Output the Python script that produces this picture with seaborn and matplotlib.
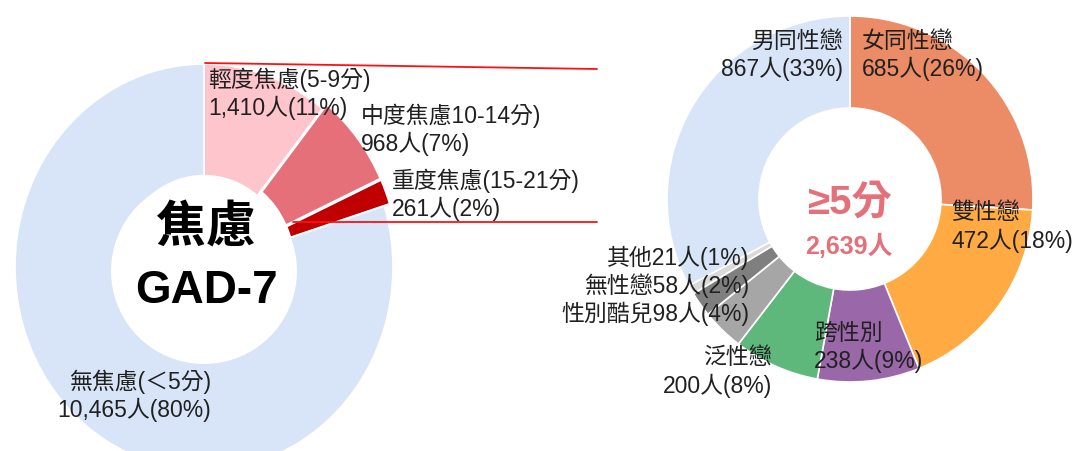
import matplotlib
matplotlib.use("Agg")
import matplotlib.pyplot as plt
from matplotlib.patches import Circle
import seaborn as sns

# 焦慮 GAD-7 分級
gad_labels = ['輕度焦慮(5-9分)', '中度焦慮10-14分)', '重度焦慮(15-21分)', '無焦慮(＜5分)']
gad_counts = [1410, 968, 261, 10465]
gad_pct = ['11%', '7%', '2%', '80%']
gad_colors = ['#FFC5CC', '#E5707A', '#C00000', '#D8E5F8']

# ≥5分 者之性傾向/性別認同
grp_labels = ['女同性戀', '雙性戀', '跨性別', '泛性戀', '性別酷兒', '無性戀', '其他', '男同性戀']
grp_counts = [685, 472, 238, 200, 98, 58, 21, 867]
grp_pct = ['26%', '18%', '9%', '8%', '4%', '2%', '1%', '33%']
grp_colors = ['#EC8C66', '#FFAA42', '#9A68A9', '#5FB87B', '#A6A6A6', '#7F7F7F', '#D9D9D9', '#D8E5F8']

sns.set_theme(style="white")
plt.rcParams['font.family'] = ['Liberation Sans', 'Noto Sans CJK TC', 'DejaVu Sans']

W, H = 1076, 452
fig = plt.figure(figsize=(W / 100, H / 100), dpi=100)


def Y(py):
    return H - py


# 左邊的甜甜圈稍微拉長 (原圖是橢圓)
cx, cy, ra, rb = 204, 268, 189, 203
ax_l = fig.add_axes([(cx - ra) / W, (H - cy - rb) / H, 2 * ra / W, 2 * rb / H])
ax_l.pie(gad_counts, colors=gad_colors, startangle=90, counterclock=False,
         radius=1, explode=[0, 0.03, 0.03, 0],
         wedgeprops=dict(width=0.55, edgecolor='white', linewidth=1.2))
ax_l.set_xlim(-1, 1)
ax_l.set_ylim(-1, 1)
ax_l.set_aspect('auto')
ax_l.axis('off')

# 其餘都畫在像素座標的主軸上
ax = fig.add_axes([0, 0, 1, 1])
ax.patch.set_alpha(0)

txt = '#202020'
pink = '#E5707A'

ax.add_patch(Circle((204, Y(272)), 93, facecolor='white', edgecolor='none', zorder=2))

# 右: ≥5分
ax.pie(grp_counts, colors=grp_colors, startangle=90, counterclock=False,
       center=(850, Y(200)), radius=183,
       wedgeprops=dict(width=92, edgecolor='white', linewidth=1.2))

# 連接線
ax.plot([205, 597], [Y(64), Y(70)], color='#FF1010', lw=1.3, zorder=3)
ax.plot([293, 597], [Y(223), Y(223)], color='#FF1010', lw=1.3, zorder=3)


def label(x, y, lines, ha='left', size=16.5, gap=28):
    for i, s in enumerate(lines):
        ax.text(x, Y(y + i * gap), s, ha=ha, va='center', fontsize=size,
                color=txt, zorder=4)


def n(v):
    return f'{v:,}人'


label(208, 80, [gad_labels[0], f'{n(gad_counts[0])}({gad_pct[0]})'])
label(361, 116, [gad_labels[1], f'{n(gad_counts[1])}({gad_pct[1]})'])
label(392, 181, [gad_labels[2], f'{n(gad_counts[2])}({gad_pct[2]})'])
label(211, 382, [gad_labels[3], f'{n(gad_counts[3])}({gad_pct[3]})'], ha='right')

ax.text(206, Y(228), '焦慮', ha='center', va='center', fontsize=36,
        fontweight='bold', color='black', zorder=4, family=['Noto Sans CJK TC'])
ax.text(206, Y(291), 'GAD-7', ha='center', va='center', fontsize=33,
        fontweight='bold', color='black', zorder=4)

label(843, 41, [grp_labels[7], f'{n(grp_counts[7])}({grp_pct[7]})'], ha='right')
label(862, 41, [grp_labels[0], f'{n(grp_counts[0])}({grp_pct[0]})'])
label(951, 213, [grp_labels[1], f'{n(grp_counts[1])}({grp_pct[1]})'])
label(814, 333, [grp_labels[2], f'{n(grp_counts[2])}({grp_pct[2]})'])
label(772, 358, [grp_labels[3], f'{n(grp_counts[3])}({grp_pct[3]})'], ha='right')
label(749, 258, [f'{grp_labels[6]}{n(grp_counts[6])}({grp_pct[6]})'], ha='right')
label(749, 286, [f'{grp_labels[5]}{n(grp_counts[5])}({grp_pct[5]})'], ha='right')
label(749, 314, [f'{grp_labels[4]}{n(grp_counts[4])}({grp_pct[4]})'], ha='right')

ax.text(849, Y(203), '≥5分', ha='center', va='center', fontsize=29,
        fontweight='bold', color=pink, zorder=4)
ax.text(849, Y(246), f'{sum(grp_counts):,}人', ha='center', va='center',
        fontsize=18, fontweight='bold', color=pink, zorder=4)

ax.set_xlim(0, W)
ax.set_ylim(0, H)
ax.set_aspect('equal')
ax.axis('off')

fig.savefig('out.png', dpi=100, facecolor='white')
plt.close(fig)
